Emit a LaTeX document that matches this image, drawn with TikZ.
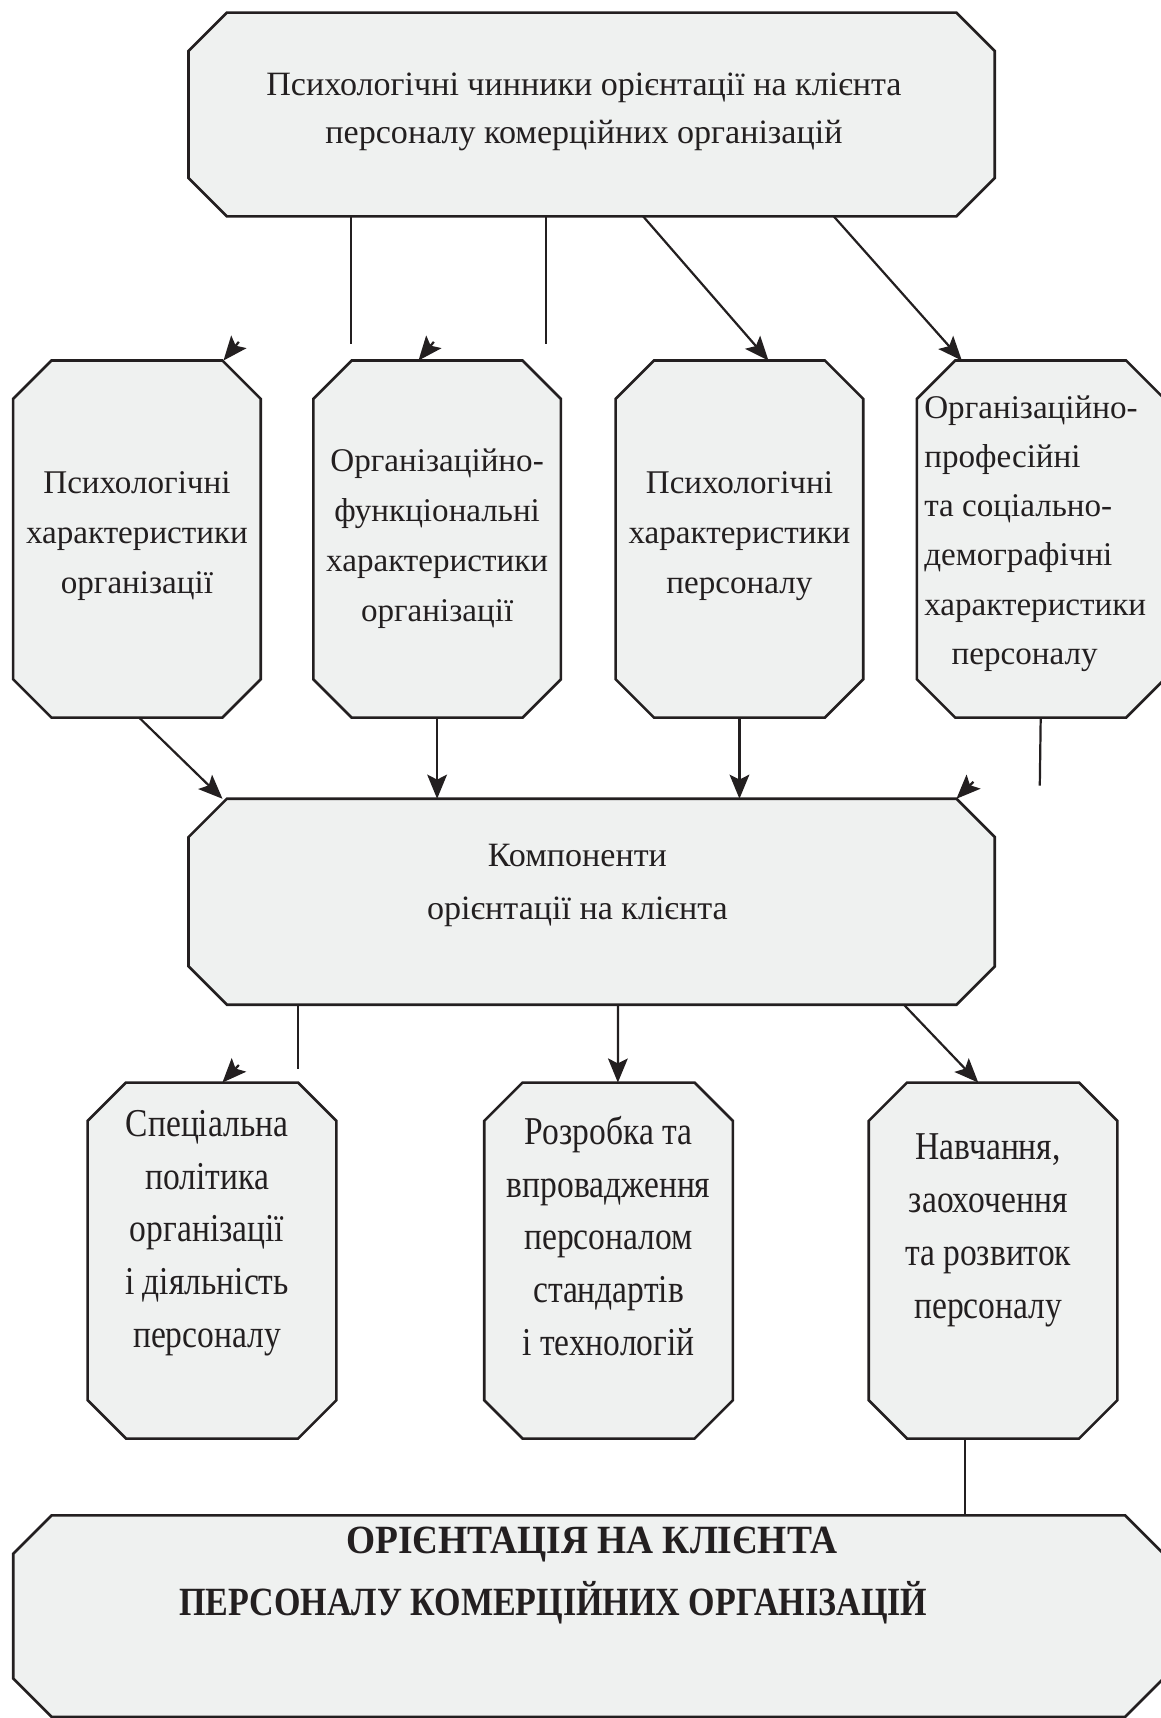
\documentclass[tikz,border=0pt]{standalone}
\usepackage{fontspec}
\setmainfont{Liberation Serif}
\newfontfamily\narrowfont[FakeStretch=0.85]{Liberation Serif}
\usepackage{xcolor}
\usepackage{tikz}
\usetikzlibrary{arrows.meta,positioning,calc,backgrounds}

\definecolor{boxgray}{RGB}{239,241,240}
\definecolor{inkline}{RGB}{35,31,32}

\begin{document}
\begin{tikzpicture}[
  x=0.02cm, y=-0.02cm,
  chbox/.style={rectangle, inner sep=0pt, outer sep=0pt},
  widebox/.style={chbox, minimum width=14.72cm, minimum height=3.72cm},
  tallbox/.style={chbox, minimum width=4.52cm, minimum height=6.52cm},
  lowbox/.style={chbox, minimum width=4.54cm, minimum height=6.5cm},
  outline/.style={draw=inkline, line width=1.35pt, fill=boxgray},
  toptxt/.style={align=center, text=inkline, font=\fontsize{17.7}{25}\selectfont},
  rowtxt/.style={align=center, text=inkline, font=\fontsize{17.2}{26}\selectfont},
  lowtxt/.style={align=center, text=inkline, font=\narrowfont\fontsize{20.5}{27.4}\selectfont},
  headtxt/.style={align=center, text=inkline, font=\narrowfont\bfseries\fontsize{20.8}{32.6}\selectfont},
  con/.style={draw=inkline, line width=1.15pt},
  arr/.style={con, -{Stealth[length=4.4mm, width=3.6mm, inset=0.9mm]}},
  node distance=0.98cm
]
\useasboundingbox (0,0) rectangle (1059,1568);

% boxes
\node[widebox] (fact) at (540,104.5) {};
\node[tallbox] (psyorg) at (125,492) {};
\node[tallbox, right=0.96cm of psyorg] (funorg) {};
\node[tallbox, right=1.0cm of funorg] (psyper) {};
\node[tallbox, right=0.98cm of psyper] (profdem) {};
\node[widebox, minimum height=3.76cm] (comp) at (540,823) {};
\node[lowbox] (spec) at (193.5,1150.5) {};
\node[lowbox, right=2.7cm of spec] (stand) {};
\node[lowbox, right=2.48cm of stand] (train) {};
\node[chbox, minimum width=21cm, minimum height=3.68cm] (orient) at (537,1475) {};

\begin{scope}[on background layer]
  \foreach \b in {fact,psyorg,funorg,psyper,profdem,comp,spec,stand,train,orient}
    \draw[outline] ($(\b.north west)+(0.7cm,0cm)$) -- ($(\b.north east)+(-0.7cm,0cm)$)
      -- ($(\b.north east)+(0cm,-0.7cm)$) -- ($(\b.south east)+(0cm,0.7cm)$)
      -- ($(\b.south east)+(-0.7cm,0cm)$) -- ($(\b.south west)+(0.7cm,0cm)$)
      -- ($(\b.south west)+(0cm,0.7cm)$) -- ($(\b.north west)+(0cm,-0.7cm)$) -- cycle;
\end{scope}

% texts
\node[toptxt] (fact-t) at ([xshift=-0.14cm, yshift=0.05cm]fact.center)
  {Психологічні чинники орієнтації на клієнта\\персоналу комерційних організацій};
\node[rowtxt] (psyorg-t) at ([yshift=0.06cm]psyorg.center) {Психологічні\\характеристики\\організації};
\node[rowtxt] (funorg-t) at (funorg.center) {Організаційно-\\функціональні\\характеристики\\організації};
\node[rowtxt] (psyper-t) at ([yshift=0.05cm]psyper.center) {Психологічні\\характеристики\\персоналу};
\node[rowtxt, align=left, font=\fontsize{17.2}{25.6}\selectfont] (profdem-t) at ([xshift=-0.1cm, yshift=0.1cm]profdem.center)
  {Організаційно-\\професійні\\та соціально-\\демографічні\\характеристики\\\hspace*{0.5cm}персоналу};
\node[toptxt, font=\fontsize{17.7}{27.3}\selectfont] (comp-t) at ([xshift=-0.26cm, yshift=0.3cm]comp.center)
  {Компоненти\\орієнтації на клієнта};
\node[lowtxt] (spec-t) at ([xshift=-0.09cm, yshift=0.5cm]spec.center) {Спеціальна\\політика\\організації\\і діяльність\\персоналу};
\node[lowtxt] (stand-t) at ([yshift=0.45cm]stand.center) {Розробка та\\впровадження\\персоналом\\стандартів\\і технологій};
\node[lowtxt] (train-t) at ([xshift=-0.09cm, yshift=0.55cm]train.center) {Навчання,\\заохочення\\та розвиток\\персоналу};
\node[headtxt] (orient-t) at ([xshift=0.06cm, yshift=0.74cm]orient.center)
  {\scalebox{1.1}[1]{ОРІЄНТАЦІЯ НА КЛІЄНТА}\\ПЕРСОНАЛУ КОМЕРЦІЙНИХ ОРГАНІЗАЦІЙ\makebox[1.4cm]{}};

% free ends and loose arrow heads
\coordinate (f1) at (320,314);
\coordinate (f2) at (498,314);
\coordinate (f3) at (949,717);
\coordinate (f4) at (272,976);
\coordinate (hA) at ([xshift=-0.68cm]psyorg.north east);
\coordinate (hB) at ([xshift=-0.34cm]funorg.north);
\coordinate (hC) at ([xshift=-0.7cm]comp.north east);
\coordinate (hE) at ([xshift=0.19cm]spec.north);

% connectors
\draw[con] (f1 |- fact.south) -- (f1);
\draw[con] (f2 |- fact.south) -- (f2);
\draw[arr] ([xshift=0.94cm]fact.south) -- ([xshift=0.53cm]psyper.north);
\draw[arr] ([xshift=4.42cm]fact.south) -- ([xshift=0.82cm]profdem.north west);
\draw[arr] ([shift={(0.28cm,0.34cm)}]hA) -- (hA);
\draw[arr] ([shift={(0.28cm,0.34cm)}]hB) -- (hB);

\draw[arr] ([xshift=0.04cm]psyorg.south) -- ([xshift=0.62cm]comp.north west);
\draw[arr] (funorg.south) -- (funorg.south |- comp.north);
\draw[arr] (psyper.south) -- (psyper.south |- comp.north);
\draw[con] (profdem.south) -- (f3);
\draw[arr] ([shift={(0.31cm,0.31cm)}]hC) -- (hC);

\draw[con] (f4 |- comp.south) -- (f4);
\draw[arr] ([shift={(0.3cm,0.32cm)}]hE) -- (hE);
\draw[arr] ([xshift=0.48cm]comp.south) -- ([xshift=0.17cm]stand.north);
\draw[arr] ([xshift=5.7cm]comp.south) -- ([xshift=-0.27cm]train.north);
\draw[con] ([xshift=-0.51cm]train.south) -- ([xshift=-0.51cm]train.south |- orient.north);

\end{tikzpicture}
\end{document}
